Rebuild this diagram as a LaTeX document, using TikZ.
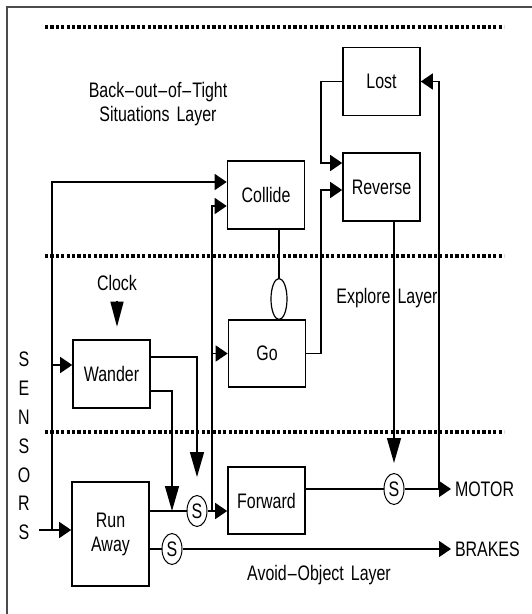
\documentclass[tikz,border=0pt]{standalone}
\usepackage{fontspec}
\setmainfont{Liberation Sans}[FakeStretch=0.76, WordSpace=1.6]
\usetikzlibrary{arrows.meta,shapes.geometric}

\newcommand\strich{\kern1pt--\kern1pt}

\tikzset{
    kasten/.style={draw, line width=1.6pt, minimum width=77pt, minimum height=68pt, inner sep=0pt},
    schalter/.style={draw, ellipse, line width=1pt, minimum width=20pt, minimum height=31pt, inner sep=0pt},
    hemmung/.style={draw, ellipse, line width=1.2pt, minimum width=16pt, minimum height=41pt, inner sep=0pt},
    hpfeil/.style={-{Triangle[length=12pt,width=16pt]}},
    vpfeil/.style={-{Triangle[length=25pt,width=14pt]}},
    trenn/.style={line width=3.4pt, dash pattern=on 3.2pt off 2.2pt},
    rahmen/.style={line width=1.5pt, gray!60!black}
}

\begin{document}
\begin{tikzpicture}[x=1pt, y=-1pt, line width=1.4pt, font=\fontsize{21}{24}\selectfont]
    \useasboundingbox (0,0) rectangle (532,614);
    \draw[rahmen] (7,614) -- (7,7) -- (532,7);
    \draw[trenn] (45,27) -- (504,27);
    \draw[trenn] (45,256) -- (504,256);
    \draw[trenn] (45,432) -- (504,432);
    \path node[kasten] (Lost) at (381.5,81.5) {Lost}
        node[kasten] (Reverse) at (381.5,187) {Reverse}
        node[kasten] (Collide) at (266,195) {Collide}
        node[kasten, minimum height=67pt] (Go) at (267,353.5) {Go}
        node[kasten] (Wander) at (111.5,374) {Wander}
        node[kasten, minimum height=104pt, align=center] (RunAway) at (110.5,534) {Run\\Away}
        node[kasten, minimum height=67pt] (Forward) at (266.5,500.5) {Forward}
        node[hemmung] (Inh) at (279,299) {}
        node[schalter] (S1) at (197,511) {S}
        node[schalter] (S2) at (172,549) {S}
        node[schalter] (S3) at (394,489) {S}
        node[anchor=west] (Motor) at (451,489) {MOTOR}
        node[anchor=west] (Brakes) at (451,549) {BRAKES}
        node (Clock) at (117,283) {Clock}
        node[align=center] (BackOut) at (158,104) {Back\strich out\strich of\strich Tight\\Situations Layer}
        node (Explore) at (387,298) {Explore Layer}
        node (Avoid) at (319,575) {Avoid\strich Object Layer}
        node[align=center, font=\fontsize{21}{28.8}\selectfont] (Sensors) at (24,446) {S\\E\\N\\S\\O\\R\\S};
    \coordinate (SensIn) at (39,530);
    \coordinate (Bus) at (52,530);
    \coordinate (FBus) at (212,511);
    \coordinate (RBus) at (321,0);
    \coordinate (MBus) at (439,489);
    \coordinate (WIn) at ([yshift=9pt]Wander.west);
    \coordinate (RevIn) at ([yshift=-3pt]Reverse.west);
    \coordinate (RevTop) at ([yshift=24pt]Reverse.west);
    \draw[hpfeil] (SensIn) -- (RunAway.west |- SensIn);
    \draw[hpfeil] (Bus) |- ([yshift=13pt]Collide.west);
    \draw[hpfeil] (Bus |- WIn) -- (WIn);
    \draw[vpfeil] ([yshift=17pt]Wander.east) -| ([yshift=18pt]S1.north);
    \draw[vpfeil] ([yshift=-17pt]Wander.east) -| (S2 |- S1);
    \draw (RunAway.east |- S1) -- (S1);
    \draw (RunAway.east |- S2) -- (S2);
    \draw[hpfeil] (S1) -- (Forward.west |- S1);
    \draw[hpfeil] (FBus) |- ([yshift=-11pt]Collide.west);
    \draw[hpfeil] (FBus |- Go.west) -- (Go.west);
    \draw (Collide.south -| Inh) -- (Inh);
    \draw[hpfeil] (Go.east) -| (RBus |- RevIn) -- (RevIn);
    \draw[hpfeil] (Lost.west) -| (RBus |- RevTop) -- (RevTop);
    \draw[vpfeil] (S3 |- Reverse.south) -- ([yshift=10pt]S3.north);
    \draw (Forward.east |- S3) -- (S3);
    \draw[hpfeil] (S3) -- (Motor.west);
    \draw[hpfeil] (MBus) |- (Lost.east);
    \draw[hpfeil] (S2) -- (Brakes.west);
    \draw[-{Triangle[length=25pt,width=13pt]}] ([yshift=-6pt]Clock.south) -- ++(0,26);
\end{tikzpicture}
\end{document}
